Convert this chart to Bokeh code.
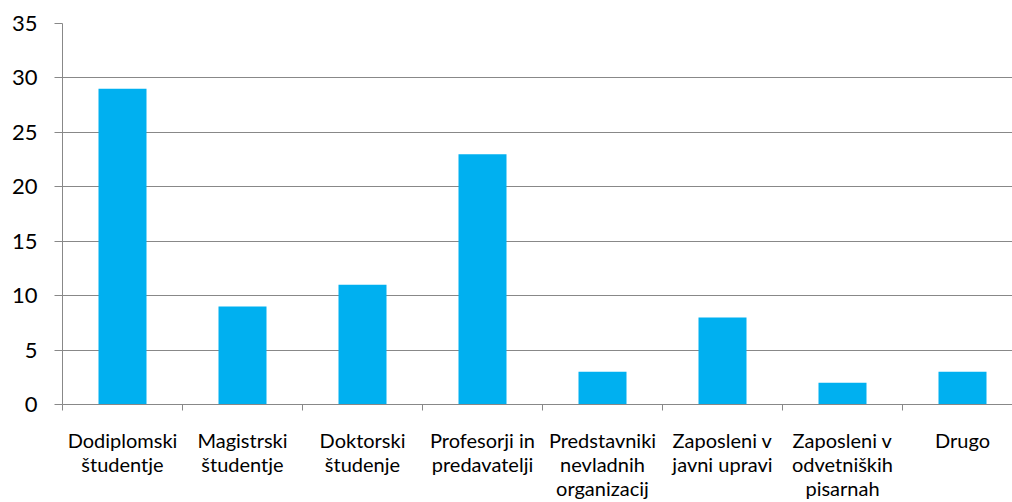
from bokeh.plotting import figure
from bokeh.models import Range1d, FixedTicker
from bokeh.embed import file_html
from bokeh.resources import INLINE

categories = ["Dodiplomski\nštudentje", "Magistrski\nštudentje", "Doktorski\nštudenje",
              "Profesorji in\npredavatelji", "Predstavniki\nnevladnih\norganizacij",
              "Zaposleni v\njavni upravi", "Zaposleni v\nodvetniških\npisarnah", "Drugo"]
values = [29, 9, 11, 23, 3, 8, 2, 3]
y_ticks = [0, 5, 10, 15, 20, 25, 30, 35]

n = len(categories)
centers = [i + 0.5 for i in range(n)]
bounds = [float(i) for i in range(n + 1)]

FONT = "Lato"
GRAY = "#888888"

p = figure(width=1012, height=502, output_backend="svg", toolbar_location=None,
           x_range=Range1d(0, 950 / 120), y_range=Range1d(0, 35),
           min_border_left=62, min_border_right=0, min_border_top=23, min_border_bottom=97)
p.outline_line_color = None
p.background_fill_color = "white"
p.border_fill_color = "white"

p.vbar(x=centers, top=values, width=0.4, color="#00B0F0", line_color=None)

p.xgrid.visible = False
p.ygrid.ticker = FixedTicker(ticks=y_ticks)
p.ygrid.grid_line_color = GRAY
p.ygrid.grid_line_width = 1

xa = p.xaxis[0]
xa.ticker = FixedTicker(ticks=centers, minor_ticks=bounds)
xa.major_label_overrides = {c: lab for c, lab in zip(centers, categories)}
xa.axis_line_color = GRAY
xa.major_tick_out = 0
xa.major_tick_in = 0
xa.minor_tick_out = 6
xa.minor_tick_in = 0
xa.minor_tick_line_color = GRAY
xa.major_label_text_font = FONT
xa.major_label_text_font_size = "20px"
xa.major_label_text_color = "black"
xa.major_label_standoff = 17
xa.major_label_text_line_height = 1.0

ya = p.yaxis[0]
ya.ticker = FixedTicker(ticks=y_ticks)
ya.axis_line_color = GRAY
ya.major_tick_line_color = GRAY
ya.major_tick_out = 8
ya.major_tick_in = 0
ya.minor_tick_out = 0
ya.minor_tick_in = 0
ya.major_label_text_font = FONT
ya.major_label_text_font_size = "22px"
ya.major_label_text_color = "black"
ya.major_label_standoff = 17

open("out.html", "w").write(file_html(p, INLINE))
